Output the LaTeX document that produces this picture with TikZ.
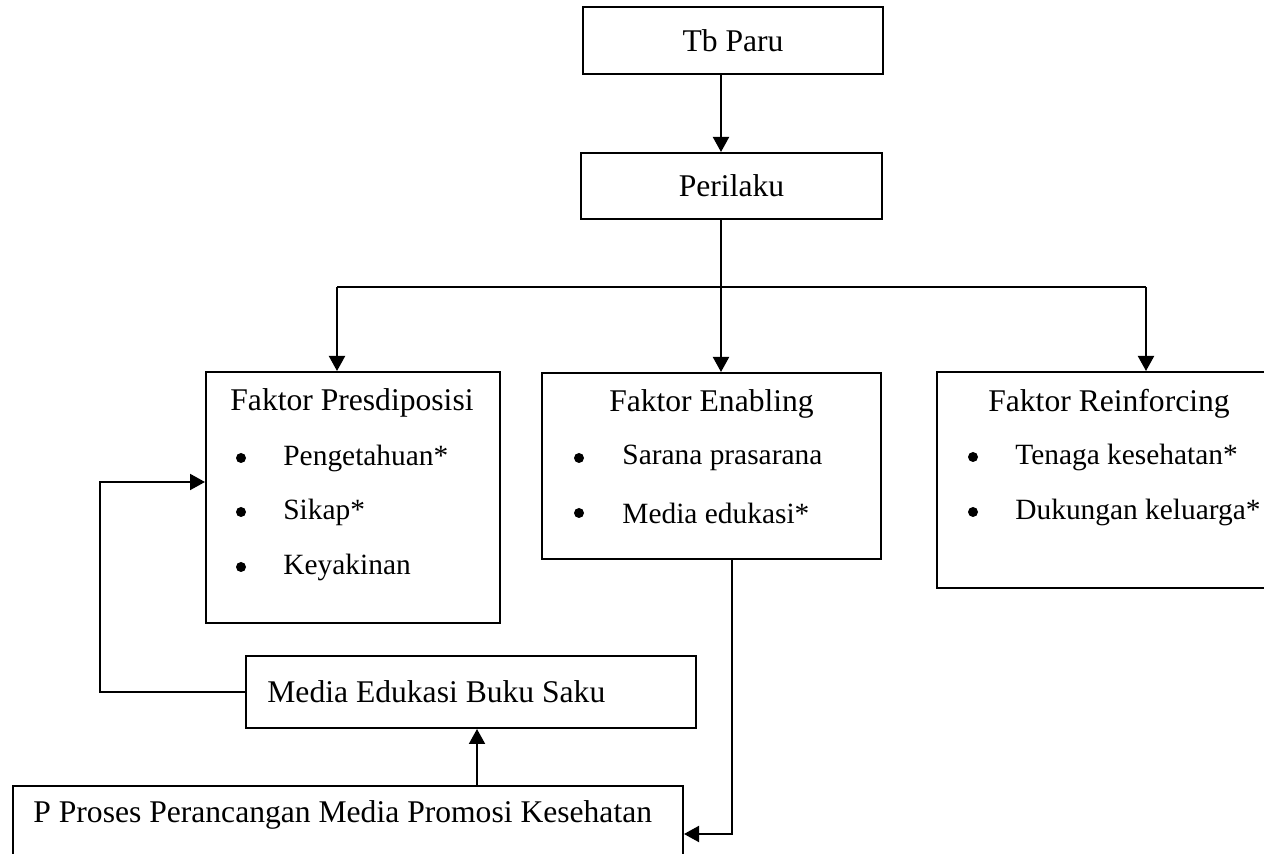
\documentclass[tikz,border=0pt]{standalone}
\usepackage{fontspec}
\setmainfont{Liberation Serif}
\usetikzlibrary{arrows.meta}

\begin{document}
\begin{tikzpicture}[x=0.5pt, y=-0.5pt, font=\fontsize{15.8}{19}\selectfont]
\tikzstyle{box}=[draw, line width=1pt, inner sep=0pt]
\tikzstyle{lbl}=[inner sep=0pt]
\tikzstyle{itm}=[inner sep=0pt, anchor=west, font=\fontsize{14.7}{18}\selectfont]
\tikzstyle{dot}=[circle, fill, inner sep=0pt, minimum size=5pt]
\tikzstyle{arr}=[line width=1pt, -{Triangle[length=7.5pt, width=8pt]}]
\useasboundingbox (0,0) rectangle (1264,854);
\clip (0,0) rectangle (1264,854);
	\node[box, minimum width=150pt, minimum height=33.5pt] (tb) at (733,40.5){Tb Paru};
	\node[box, minimum width=150.5pt, minimum height=33pt] (per) at (731.5,186){Perilaku};
	\node[box, minimum width=147pt, minimum height=125.5pt] (pre) at (353,497.5){};
	\node[box, minimum width=169.5pt, minimum height=93pt] (ena) at (711.5,466){};
	\node[box, minimum width=167.5pt, minimum height=108pt] (rei) at (1104.5,480){};
	\node[box, minimum width=225pt, minimum height=36pt] (med) at (471,692){};
	\node[box, minimum width=335pt, minimum height=47pt] (pro) at (348,833){};
% texts
	\node[lbl] (pret) at (352,403){Faktor Presdiposisi};
	\node[lbl] (enat) at (711.5,404){Faktor Enabling};
	\node[lbl] (reit) at (1109,404){Faktor Reinforcing};
	\node[lbl, anchor=west] (medt) at (267,692){Media Edukasi Buku Saku};
	\node[lbl, anchor=west] (prot) at (33,815){P Proses Perancangan Media Promosi Kesehatan};
\foreach \y/\t [count=\i] in {458/Pengetahuan*, 512/Sikap*, 567/Keyakinan}{
	\node[dot] (preb\i) at (241,\y){};
	\node[itm] (prei\i) at (283,\y){\t};
}
\foreach \y/\t [count=\i] in {458/Sarana prasarana, 513/Media edukasi*}{
	\node[dot] (enab\i) at (579,\y){};
	\node[itm] (enai\i) at (622,\y){\t};
}
\foreach \y/\t [count=\i] in {457/Tenaga kesehatan*, 512/Dukungan keluarga*}{
	\node[dot] (reib\i) at (973,\y){};
	\node[itm] (reii\i) at (1015,\y){\t};
}
% connectors
	\coordinate (bar) at (721,287);
	\coordinate (barL) at (337,287);
	\coordinate (barR) at (1146,287);
	\coordinate (drop) at (732,834);
	\coordinate (back) at (100,482);
	\coordinate (up) at (477,0);
\draw[arr] (tb.south -| bar)--(per.north -| bar);
\draw[line width=1pt] (per.south -| bar)--(bar) (barL)--(barR);
\draw[arr] (barL)--(pre.north -| barL);
\draw[arr] (bar)--(ena.north -| bar);
\draw[arr] (barR)--(rei.north -| barR);
\draw[arr] (ena.south -| drop)--(drop)--(pro.east |- drop);
\draw[arr] (med.west) -| (back)--(pre.west |- back);
\draw[arr] (pro.north -| up)--(med.south -| up);
\end{tikzpicture}
\end{document}
